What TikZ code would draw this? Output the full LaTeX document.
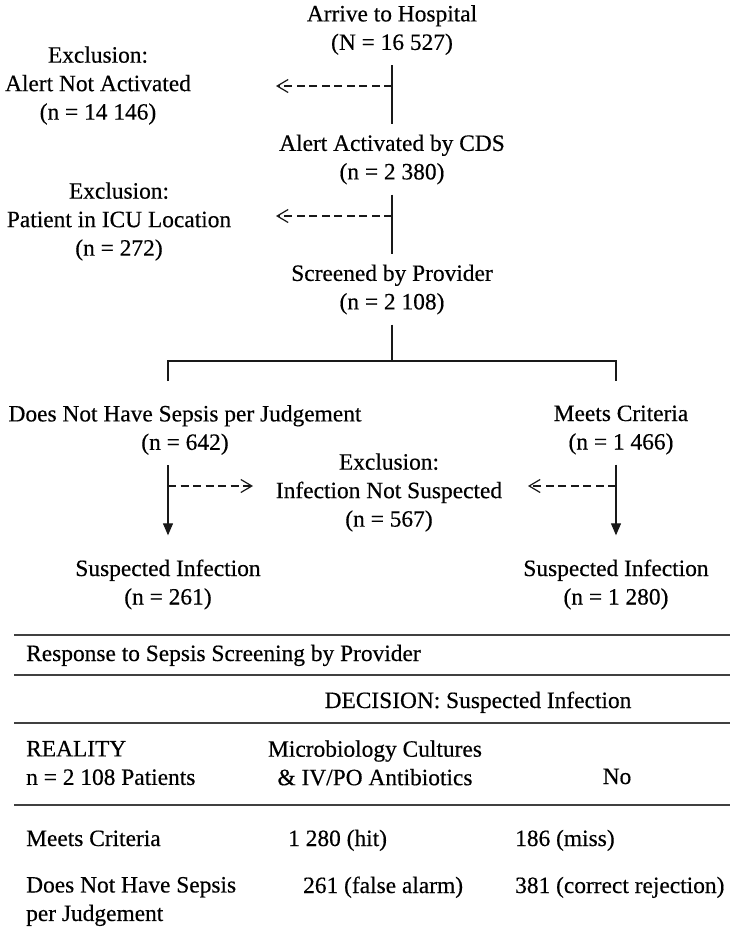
\documentclass[tikz,border=0pt]{standalone}
\usepackage{fontspec}
\setmainfont{Liberation Serif}[FakeBold=0.4]
\usetikzlibrary{arrows.meta,calc}
\tikzset{
    txt/.style={align=center,inner xsep=0pt,inner ysep=10pt,font={\fontsize{23.4}{28.5}\selectfont}},
    cell/.style={inner sep=0pt,font={\fontsize{23.4}{28.5}\selectfont}},
    flow/.style={draw=black!90,line width=1.1pt},
    down/.style={flow,-{Triangle[length=12pt,width=10pt]}},
    excl/.style={flow,dash pattern=on 8pt off 4.5pt,-{Straight Barb[length=11pt,width=13pt,line width=1.2pt]}},
    rule/.style={draw=black!75,line width=1.6pt},
}
\begin{document}
\begin{tikzpicture}[x=1pt,y=-1pt]
                \useasboundingbox (0,0) rectangle (730,930);
                \fill[white] (0,0) rectangle (730,930);
                %% main path
                \node[txt] (arrive) at (392,30) {Arrive to Hospital\\(N = 16 527)};
                \node[txt] (alert) at (392,159.5) {Alert Activated by CDS\\(n = 2 380)};
                \node[txt] (screened) at (392,289.5) {Screened by Provider\\(n = 2 108)};
                %% exclusions
                \node[txt] (excl1) at (98,85.5) {Exclusion:\\Alert Not Activated\\(n = 14 146)};
                \node[txt] (excl2) at (119,221.5) {Exclusion:\\Patient in ICU Location\\(n = 272)};
                \node[txt] (excl3) at (389,492.5) {Exclusion:\\Infection Not Suspected\\(n = 567)};
                %% branches
                \node[txt] (nosepsis) at (185,430) {Does Not Have Sepsis per Judgement\\(n = 642)};
                \node[txt] (meets) at (621,430) {Meets Criteria\\(n = 1 466)};
                \node[txt] (suspL) at (168,584.5) {Suspected Infection\\(n = 261)};
                \node[txt] (suspR) at (616,584.5) {Suspected Infection\\(n = 1 280)};
                %% arrow ends
                \coordinate (x1) at (276,86);
                \coordinate (x2) at (276,216);
                \coordinate (split) at (392,361);
                \coordinate (midL) at (253,486);
                \coordinate (midR) at (528,486);
                %% connectors
                \draw[flow] (arrive) -- (alert);
                \draw[flow] (alert) -- (screened);
                \draw[excl] (arrive |- x1) -- (x1);
                \draw[excl] (alert |- x2) -- (x2);
                \draw[flow] (screened.south) -- (split);
                \draw[flow] ($(suspL |- split)+(0,20)$) -- (suspL |- split) -- (suspR |- split) -- ++(0,20);
                \draw[down,shorten >=14pt] (suspL |- nosepsis.south) -- (suspL.north);
                \draw[down,shorten >=14pt] (suspR |- meets.south) -- (suspR.north);
                \draw[excl] (suspL |- midL) -- (midL);
                \draw[excl] (suspR |- midR) -- (midR);
                %% table
                \foreach \y in {635,675,723,805}
                    \draw[rule] (14,\y) -- (730,\y);
                \node[cell,anchor=base west] (resp) at (26,661) {Response to Sepsis Screening by Provider};
                \node[cell,anchor=base] (decision) at (478,708) {DECISION: Suspected Infection};
                \node[cell,align=left,anchor=west] (reality) at (26,763) {REALITY\\n = 2 108 Patients};
                \node[cell,align=center] (action) at (375,763) {Microbiology Cultures\\\& IV/PO Antibiotics};
                \node[cell,anchor=base] (no) at (617,784) {No};
                \node[cell,anchor=base west] (rowmeets) at (26,846) {Meets Criteria};
                \node[cell,anchor=base west] (hit) at (288,846) {1 280 (hit)};
                \node[cell,anchor=base west] (miss) at (515,846) {186 (miss)};
                \node[cell,align=left,anchor=west] (rownot) at (26,901.5) {Does Not Have Sepsis\\per Judgement};
                \node[cell,anchor=base west] (falarm) at (303,893) {261 (false alarm)};
                \node[cell,anchor=base west] (reject) at (515,893) {381 (correct rejection)};
            \end{tikzpicture}
\end{document}
